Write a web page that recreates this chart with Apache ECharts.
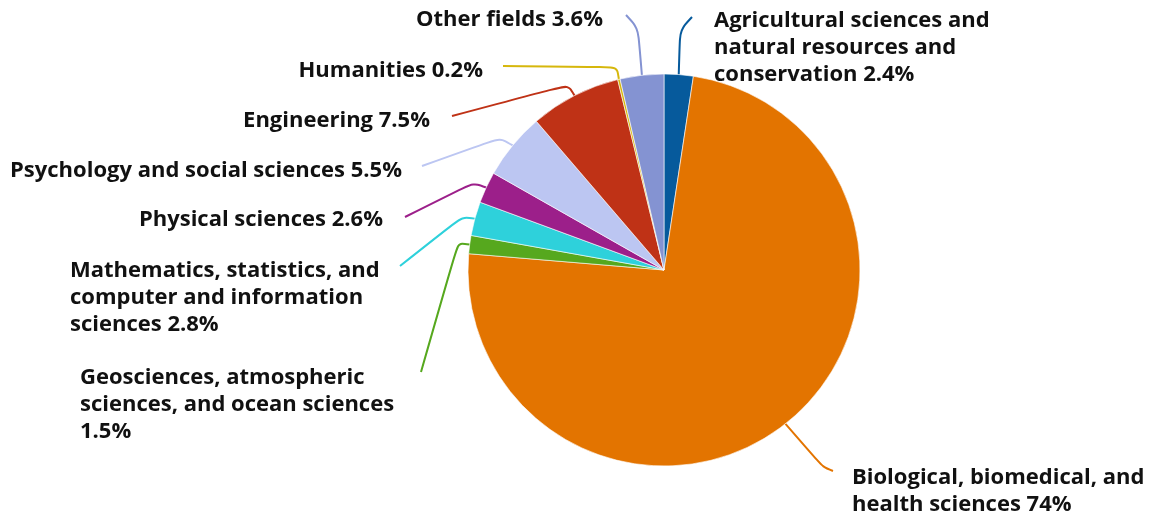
<!DOCTYPE html>
<html><head><meta charset="utf-8">
<script src="https://cdn.jsdelivr.net/npm/echarts@6/dist/echarts.min.js"></script>
<style>html,body{margin:0;padding:0;background:#fff}#c{width:1149px;height:519px}</style>
</head><body><div id="c"></div>
<script>
var categories = [
  'Agricultural sciences and\nnatural resources and\nconservation',
  'Biological, biomedical, and\nhealth sciences',
  'Geosciences, atmospheric\nsciences, and ocean sciences\n',
  'Mathematics, statistics, and\ncomputer and information\nsciences',
  'Physical sciences',
  'Psychology and social sciences',
  'Engineering',
  'Humanities',
  'Other fields'
];
var percentLabels = ['2.4%','74%','1.5%','2.8%','2.6%','5.5%','7.5%','0.2%','3.6%'];
var values = [2.4, 74, 1.5, 2.8, 2.6, 5.5, 7.5, 0.2, 3.6];
var colors = ['#065a9c','#e37400','#56a81e','#2ed1db','#9c1f8a','#bcc6f2','#bf3216','#d6b70c','#8493d2'];

// label placement: [labelX, labelY(middle), align, bendX, bendY, endX, endY]
var labelPlacement = [
  [714, 48, 'left', 680, 30, 692, 17],
  [852, 491, 'left', 823, 467, 833, 471],
  [80, 405, 'left', 458, 243, 421, 372],
  [70, 298, 'left', 462, 217, 400, 266],
  [383, 220, 'right', 473, 183, 405, 217],
  [402, 171, 'right', 500, 138, 422, 166],
  [430, 121, 'right', 568, 85, 452, 116],
  [483, 71, 'right', 617, 67, 503, 66],
  [603, 20, 'right', 638, 28, 626, 15]
];

var data = categories.map(function (c, i) {
  var sep = c.charAt(c.length - 1) === '\n' ? '' : ' ';
  return { name: c, value: values[i], itemStyle: { color: colors[i] }, labelText: c + sep + percentLabels[i] };
});

var chart = echarts.init(document.getElementById('c'));
chart.setOption({
  animation: false,
  series: [{
    type: 'pie',
    center: [664, 270],
    radius: 196,
    startAngle: 90,
    clockwise: true,
    data: data,
    itemStyle: { borderColor: '#ffffff', borderWidth: 0.6 },
    label: {
      show: true,
      position: 'outer',
      formatter: function (p) { return data[p.dataIndex].labelText; },
      fontFamily: '"Open Sans", "Noto Sans", sans-serif',
      fontWeight: 'bold',
      fontSize: 22,
      lineHeight: 27,
      color: '#111111'
    },
    labelLine: { show: true, smooth: 0.3, lineStyle: { width: 2 } },
    labelLayout: function (params) {
      var L = labelPlacement[params.dataIndex];
      var start = params.labelLinePoints ? params.labelLinePoints[0] : [L[3], L[4]];
      return {
        x: L[0], y: L[1], align: L[2], verticalAlign: 'middle',
        labelLinePoints: [start, [L[3], L[4]], [L[5], L[6]]]
      };
    }
  }]
});
</script></body></html>
